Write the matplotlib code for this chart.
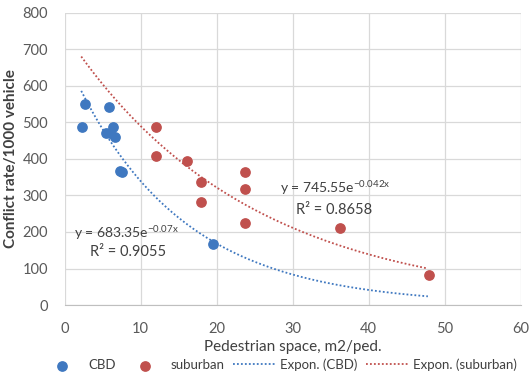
import numpy as np
import matplotlib
matplotlib.use("Agg")
import matplotlib.pyplot as plt

cbd_x = [2.3, 2.7, 5.9, 5.4, 6.0, 6.4, 6.6, 7.3, 7.6, 19.5]
cbd_y = [488, 550, 541, 472, 470, 487, 459, 367, 363, 168]
sub_x = [12.0, 12.0, 16.1, 18.0, 18.0, 23.8, 23.8, 23.8, 36.2, 48.0]
sub_y = [488, 408, 394, 337, 283, 364, 318, 225, 212, 82]

# Excel exponential trendlines: y = a * exp(b x)
cbd_fit = (683.35, -0.07)
sub_fit = (745.55, -0.042)
trend_range = (2.2, 47.8)

x_ticks = [0, 10, 20, 30, 40, 50, 60]
y_ticks = [0, 100, 200, 300, 400, 500, 600, 700, 800]

BLUE = "#3f78c0"
RED = "#c0504d"
TEXT = "#404040"

plt.rcParams["font.family"] = ["Lato", "DejaVu Sans"]
plt.rcParams["mathtext.fontset"] = "custom"
plt.rcParams["mathtext.rm"] = "Lato"

fig = plt.figure(figsize=(5.31, 3.80), dpi=100)
ax = fig.add_axes([0.1215, 0.197, 0.859, 0.77])

ax.scatter(cbd_x, cbd_y, s=45, color=BLUE, zorder=3, label="CBD")
ax.scatter(sub_x, sub_y, s=45, color=RED, zorder=3, label="suburban")

xt = np.linspace(trend_range[0], trend_range[1], 200)
ax.plot(xt, cbd_fit[0] * np.exp(cbd_fit[1] * xt), color=BLUE, lw=1.3,
        dashes=(1, 1.2), zorder=2, label="Expon. (CBD)")
ax.plot(xt, sub_fit[0] * np.exp(sub_fit[1] * xt), color=RED, lw=1.3,
        dashes=(1, 1.2), zorder=2, label="Expon. (suburban)")

ax.text(1.3, 198, r"y = 683.35e$^{\mathrm{-0.07x}}$", fontsize=10, color=TEXT,
        ha="left", va="center")
ax.text(3.4, 146, "R² = 0.9055", fontsize=10.5, color=TEXT, ha="left", va="center")
ax.text(28.3, 321, r"y = 745.55e$^{\mathrm{-0.042x}}$", fontsize=10, color=TEXT,
        ha="left", va="center")
ax.text(30.4, 259, "R² = 0.8658", fontsize=10.5, color=TEXT, ha="left", va="center")

ax.set_xlim(0, 60)
ax.set_ylim(0, 800)
ax.set_xticks(x_ticks)
ax.set_yticks(y_ticks)
ax.grid(True, color="#d9d9d9", lw=0.9)
ax.set_axisbelow(True)
for side in ("top", "right", "left"):
    ax.spines[side].set_visible(False)
ax.spines["bottom"].set_color("#bfbfbf")
ax.tick_params(axis="y", length=0, labelsize=10.5, colors="#595959", pad=12)
ax.tick_params(axis="x", length=0, labelsize=10.5, colors="#595959", pad=12)

ax.set_xlabel("Pedestrian space, m2/ped.", fontsize=11, color=TEXT, labelpad=3)
ax.set_ylabel("Conflict rate/1000 vehicle", fontsize=11, color=TEXT,
              fontweight="bold", labelpad=3)

fig.legend(loc="center", bbox_to_anchor=(0.525, 0.04), ncol=4, frameon=False,
           fontsize=9.5, labelcolor=TEXT, handlelength=3.3, columnspacing=0.6,
           handletextpad=0.3)

fig.savefig("out.png", dpi=100)
